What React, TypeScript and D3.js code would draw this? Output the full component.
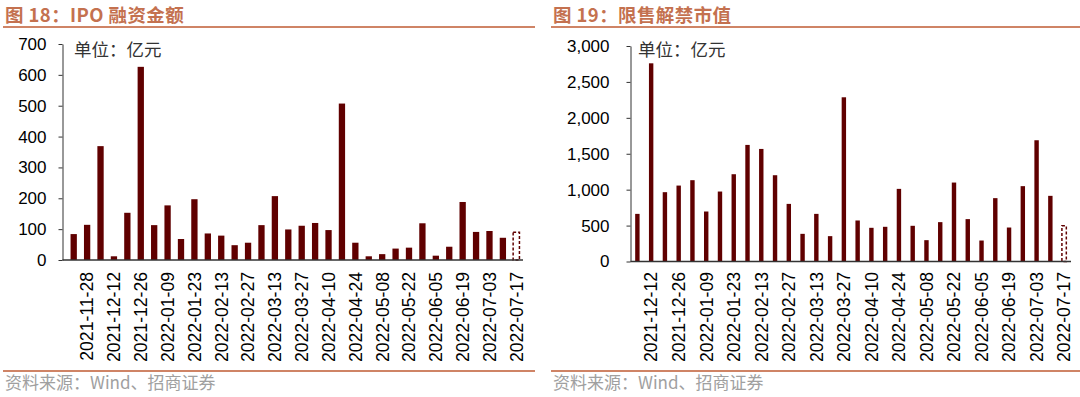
import React, { useEffect, useRef } from "react";
import * as d3 from "d3";

// weekly categories (the Spring Festival week 2022-01-30 is missing)
const weeks = [
  "2021-11-21", "2021-11-28", "2021-12-05", "2021-12-12", "2021-12-19", "2021-12-26",
  "2022-01-02", "2022-01-09", "2022-01-16", "2022-01-23", "2022-02-06", "2022-02-13",
  "2022-02-20", "2022-02-27", "2022-03-06", "2022-03-13", "2022-03-20", "2022-03-27",
  "2022-04-03", "2022-04-10", "2022-04-17", "2022-04-24", "2022-05-01", "2022-05-08",
  "2022-05-15", "2022-05-22", "2022-05-29", "2022-06-05", "2022-06-12", "2022-06-19",
  "2022-06-26", "2022-07-03", "2022-07-10", "2022-07-17",
];

// IPO 融资金额 (亿元), last week is an estimate (dashed bar)
const ipoWeeks = weeks;
const ipoValues = [
  84, 114, 369, 12, 153, 626, 113, 177, 68, 197, 86, 79, 48, 56, 113, 207, 99,
  111, 120, 97, 507, 56, 12, 19, 37, 40, 119, 14, 43, 188, 91, 94, 72, 90,
];
const ipoTicks = [0, 100, 200, 300, 400, 500, 600, 700];

// 限售解禁市值 (亿元)
const unlockWeeks = weeks.slice(2);
const unlockValues = [
  663, 2759, 965, 1057, 1132, 696, 974, 1215, 1623, 1567, 1201, 802, 385, 663,
  353, 2286, 571, 469, 483, 1011, 497, 297, 548, 1099, 590, 292, 882, 473, 1049,
  1688, 914, 497,
];
const unlockTicks = [0, 500, 1000, 1500, 2000, 2500, 3000];

const BAR = "#600000";
const TITLE = "#C4714F";
const RULE = "#CF8466";
const LATIN = "'Liberation Sans', Arial, sans-serif";
const CJK = "'Noto Sans CJK SC', sans-serif";

function drawPanel(svg, p) {
  const g = svg.append("g");

  // ---- title, rules, source ----//
  g.append("text")
    .attr("x", p.left)
    .attr("y", 21.5)
    .text(p.title)
    .attr("fill", TITLE)
    .style("font-family", CJK)
    .style("font-weight", "bold")
    .style("font-size", "18.5px")
    .style("letter-spacing", "0.4px");

  [27, 371].forEach((yy) =>
    g.append("line")
      .attr("x1", p.left - 2)
      .attr("x2", p.right)
      .attr("y1", yy)
      .attr("y2", yy)
      .attr("stroke", RULE)
      .attr("stroke-width", 2)
  );

  g.append("text")
    .attr("x", p.left)
    .attr("y", 389)
    .text("资料来源：Wind、招商证券")
    .attr("fill", "#A0A0A0")
    .style("font-family", CJK)
    .style("font-size", "17px");

  // ---- scales ----//
  const x = d3.scaleBand().domain(p.cats).range(p.xRange).padding(0);
  const y = d3.scaleLinear().domain([0, p.ticks[p.ticks.length - 1]]).range(p.yRange);
  const bw = x.bandwidth() * p.barRatio;

  // ---- bars ----//
  g.append("g")
    .selectAll("rect")
    .data(p.values)
    .join("rect")
    .attr("x", (d, i) => x(p.cats[i]) + (x.bandwidth() - bw) / 2)
    .attr("y", (d) => y(d))
    .attr("width", bw)
    .attr("height", (d) => y(0) - y(d))
    .attr("fill", (d, i) => (i === p.values.length - 1 ? "#fff" : BAR))
    .attr("stroke", (d, i) => (i === p.values.length - 1 ? BAR : "none"))
    .attr("stroke-width", 1.5)
    .attr("stroke-dasharray", (d, i) => (i === p.values.length - 1 ? "3 2" : null));

  // ---- y axis ----//
  const yAxis = g.append("g")
    .attr("transform", `translate(${p.axisX},0)`)
    .call(
      d3.axisLeft(y)
        .tickValues(p.ticks)
        .tickSize(4)
        .tickSizeOuter(0)
        .tickPadding(p.tickPad)
        .tickFormat(d3.format(","))
    );
  yAxis.select(".domain").attr("stroke", "#333");
  yAxis.selectAll(".tick line").attr("stroke", "#333");
  yAxis.selectAll("text")
    .attr("fill", "#000")
    .style("font-family", LATIN)
    .style("font-size", "17px");

  // ---- x axis ----//
  g.append("line")
    .attr("x1", p.axisX)
    .attr("x2", p.xRange[1])
    .attr("y1", y(0))
    .attr("y2", y(0))
    .attr("stroke", "#333")
    .attr("stroke-width", 1.3);

  g.append("g")
    .selectAll("text")
    .data(p.cats.filter((c, i) => i % 2 === 1))
    .join("text")
    .attr("transform", (d) => `translate(${x(d) + x.bandwidth() / 2},272) rotate(-90)`)
    .attr("dy", "0.36em")
    .attr("text-anchor", "end")
    .text((d) => d)
    .attr("fill", "#000")
    .style("font-family", LATIN)
    .style("font-size", "17.6px");

  g.append("text")
    .attr("x", p.unitX)
    .attr("y", 56)
    .text("单位：亿元")
    .attr("fill", "#333")
    .style("font-family", CJK)
    .style("font-size", "17.5px");
}

export default function App() {
  const ref = useRef(null);

  useEffect(() => {
    const svg = d3.select(ref.current);
    svg.selectAll("*").remove();

    drawPanel(svg, {
      title: "图 18：IPO 融资金额",
      left: 5,
      right: 535,
      cats: ipoWeeks,
      values: ipoValues,
      ticks: ipoTicks,
      xRange: [67, 523],
      yRange: [260, 44],
      axisX: 62.5,
      tickPad: 12,
      barRatio: 0.47,
      unitX: 74,
    });

    drawPanel(svg, {
      title: "图 19：限售解禁市值",
      left: 553,
      right: 1080,
      cats: unlockWeeks,
      values: unlockValues,
      ticks: unlockTicks,
      xRange: [630.5, 1071],
      yRange: [261.5, 46],
      axisX: 630.5,
      tickPad: 17,
      barRatio: 0.32,
      unitX: 638,
    });
  }, []);

  return (
    <svg
      ref={ref}
      width={1080}
      height={397}
      style={{ position: "absolute", left: 0, top: 0, background: "#fff" }}
    />
  );
}
